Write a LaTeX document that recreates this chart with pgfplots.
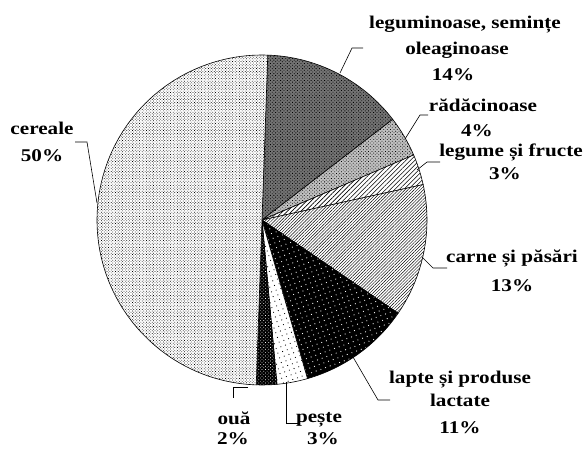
\documentclass[border=0pt]{standalone}
\usepackage{fontspec}
\setmainfont{Liberation Serif}[FakeStretch=1.18]
\usepackage{pgfplots}
\pgfplotsset{compat=1.18}
\usepackage{pgfplotstable}
\usetikzlibrary{patterns,patterns.meta}

\pgfplotstableread{
idx value
0 14
1 4
2 3
3 13
4 11
5 3
6 2
7 50
}\piedata

\tikzset{
 s0/.style={preaction={fill=black!55}, pattern={Dots[distance=2.4pt,radius=0.6pt,angle=45]}, pattern color=black},
 s1/.style={preaction={fill=black!25}, pattern={Dots[distance=2.4pt,radius=0.55pt,angle=45]}, pattern color=black},
 s2/.style={preaction={fill=white}, pattern={Lines[angle=45,distance=3.2pt,line width=0.6pt]}, pattern color=black},
 s3/.style={preaction={fill=white}, pattern={Lines[angle=45,distance=2.2pt,line width=0.45pt]}, pattern color=black},
 s4/.style={preaction={fill=black}, pattern={Dots[distance=5pt,radius=0.6pt,angle=20]}, pattern color=white},
 s5/.style={preaction={fill=white}, pattern={Dots[distance=5pt,radius=0.6pt,angle=20]}, pattern color=black},
 s6/.style={preaction={fill=black}, pattern={Dots[distance=2.4pt,radius=0.5pt,angle=45]}, pattern color=white},
 s7/.style={preaction={fill=white}, pattern={Dots[distance=2pt,radius=0.5pt,angle=45]}, pattern color=black},
 lbl/.style={anchor=base, inner sep=0pt, font=\fontsize{18}{22}\selectfont\bfseries},
}

\begin{document}
\begin{tikzpicture}
\gdef\cumul{0}
\begin{axis}[
  at={(0,0)}, anchor=south west,
  width=583bp, height=449bp, scale only axis,
  xmin=0, xmax=583, ymin=0, ymax=449,
  hide axis, clip=false,
]
\pgfplotsinvokeforeach{0,...,7}{
  \pgfplotstablegetelem{#1}{value}\of\piedata
  \pgfmathsetmacro\va{\pgfplotsretval}
  \pgfmathsetmacro\sa{88-3.6*\cumul}
  \pgfmathsetmacro\ea{\sa-3.6*\va}
  \edef\temp{\noexpand\filldraw[s#1, draw=black, line width=0.6pt] (axis cs:262,229) -- ++(\sa:165bp) arc[start angle=\sa, end angle=\ea, radius=165bp] -- cycle;}
  \temp
  \pgfmathsetmacro\tmpc{\cumul+\va}
  \xdef\cumul{\tmpc}
}
% leader lines
\draw[line width=0.6pt] (axis cs:340,376) -- (axis cs:352,401) -- (axis cs:363,401);
\draw[line width=0.6pt] (axis cs:405,310) -- (axis cs:420,334) -- (axis cs:428,334);
\draw[line width=0.6pt] (axis cs:417,279) -- (axis cs:427,287) -- (axis cs:440,287);
\draw[line width=0.6pt] (axis cs:422,192) -- (axis cs:433,181) -- (axis cs:447,181);
\draw[line width=0.6pt] (axis cs:353,92) -- (axis cs:378,49) -- (axis cs:390,49);
\draw[line width=0.6pt] (axis cs:286,67) -- (axis cs:286,26) -- (axis cs:298,26);
\draw[line width=0.6pt] (axis cs:248,62) -- (axis cs:233,62) -- (axis cs:233,51);
\draw[line width=0.6pt] (axis cs:97,246) -- (axis cs:87,307) -- (axis cs:75,307);
% labels
\node[lbl] at (axis cs:465,420) {leguminoase, semințe};
\node[lbl] at (axis cs:457,394) {oleaginoase};
\node[lbl] at (axis cs:453,368) {14\%};
\node[lbl] at (axis cs:483,337) {rădăcinoase};
\node[lbl] at (axis cs:477,312) {4\%};
\node[lbl] at (axis cs:511,292) {legume și fructe};
\node[lbl] at (axis cs:505,269) {3\%};
\node[lbl] at (axis cs:512,186) {carne și păsări};
\node[lbl] at (axis cs:512,157) {13\%};
\node[lbl] at (axis cs:460,65) {lapte și produse};
\node[lbl] at (axis cs:460,42) {lactate};
\node[lbl] at (axis cs:460,16) {11\%};
\node[lbl] at (axis cs:319,27) {pește};
\node[lbl] at (axis cs:323,5) {3\%};
\node[lbl] at (axis cs:234,25) {ouă};
\node[lbl] at (axis cs:233,5) {2\%};
\node[lbl] at (axis cs:42,314) {cereale};
\node[lbl] at (axis cs:42,287) {50\%};
\end{axis}
\pgfresetboundingbox
\path (0,0) rectangle (583bp,449bp);
\end{tikzpicture}
\end{document}
